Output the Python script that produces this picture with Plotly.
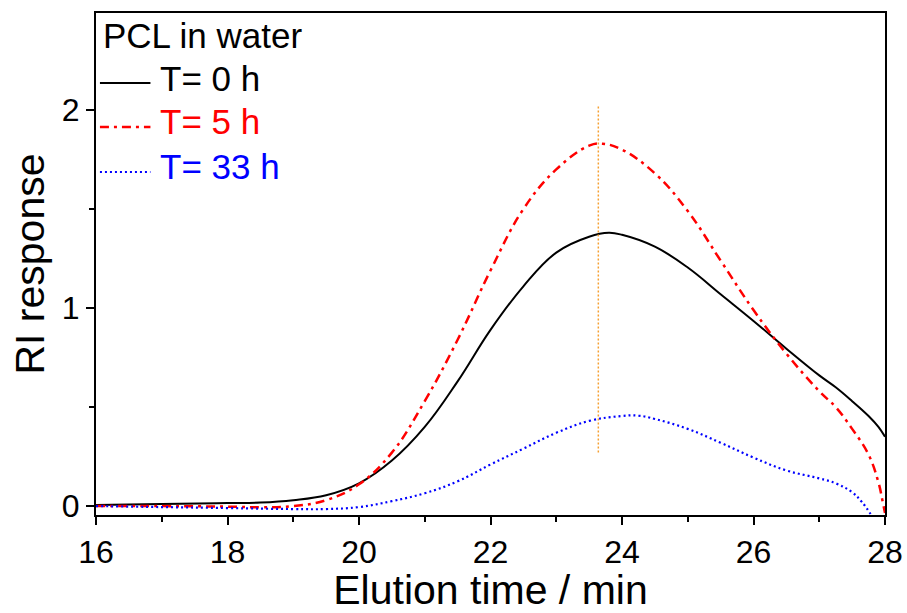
import plotly.graph_objects as go

# Elution time (min)
x_t0 = [16, 17, 18, 18.5, 19, 19.5, 20, 20.5, 21, 21.5, 22, 22.5, 23, 23.5, 23.8, 24,
        24.5, 25, 25.5, 26, 26.5, 27, 27.25, 27.5, 27.75, 27.9, 28]
y_t0 = [0.005, 0.01, 0.015, 0.018, 0.03, 0.055, 0.115, 0.23, 0.40, 0.63, 0.89, 1.11, 1.28,
        1.36, 1.38, 1.37, 1.31, 1.205, 1.07, 0.935, 0.795, 0.66, 0.60, 0.53, 0.455, 0.40, 0.35]

x_t5 = [16, 17, 18, 18.5, 19, 19.5, 20, 20.5, 21, 21.5, 22, 22.5, 23, 23.5, 23.7, 24,
        24.5, 25, 25.5, 26, 26.5, 27, 27.25, 27.5, 27.75, 27.9, 27.96, 28]
y_t5 = [0.0, 0.0, -0.003, -0.006, 0.0, 0.03, 0.11, 0.27, 0.53, 0.84, 1.19, 1.50, 1.70,
        1.82, 1.83, 1.80, 1.68, 1.49, 1.24, 0.99, 0.77, 0.58, 0.50, 0.39, 0.26, 0.12, 0.03, -0.035]

x_t33 = [16, 17, 18, 19, 19.5, 20, 20.5, 21, 21.5, 22, 22.5, 23, 23.5, 24, 24.25, 24.5,
         25, 25.5, 26, 26.5, 27, 27.25, 27.5, 27.65, 27.78]
y_t33 = [0.0, -0.005, -0.01, -0.015, -0.015, -0.005, 0.025, 0.065, 0.125, 0.21, 0.29, 0.37,
         0.43, 0.455, 0.457, 0.44, 0.39, 0.32, 0.245, 0.18, 0.14, 0.115, 0.07, 0.02, -0.04]

# Vertical marker line
x_mark = [23.64, 23.64]
y_mark = [0.27, 2.02]

x_ticks = [16, 18, 20, 22, 24, 26, 28]
y_ticks = [0, 1, 2]

legend_title = "PCL in water"
series_names = ["T= 0 h", "T= 5 h", "T= 33 h"]
series_colors = ["#000000", "#ff0000", "#0000ff"]
series_dash = ["solid", "9px,5px,3px,5px", "2px,3px"]
series_width = [2, 2.5, 2.2]

FONT = "Liberation Sans, Arial, sans-serif"
SM = 1.15

fig = go.Figure()
for xs, ys, nm, col, dsh, w in zip([x_t0, x_t5, x_t33], [y_t0, y_t5, y_t33],
                                   series_names, series_colors, series_dash, series_width):
    fig.add_trace(go.Scatter(x=xs, y=ys, mode="lines", name=nm, showlegend=False,
                             line=dict(color=col, width=w, dash=dsh,
                                       shape="spline", smoothing=SM)))
fig.add_trace(go.Scatter(x=x_mark, y=y_mark, mode="lines", showlegend=False,
                         line=dict(color="#f5a033", width=1.5, dash="2px,2px")))

# Legend drawn inside the plot (top-left), positions in paper fractions
legend_text_y = [0.8705, 0.7829, 0.6952]
legend_line_y = [0.8606, 0.7729, 0.6833]
fig.add_annotation(text=legend_title, xref="paper", yref="paper", x=0.006, y=0.9542,
                   xanchor="left", yanchor="middle", showarrow=False,
                   font=dict(family=FONT, size=35, color="black"))
for nm, col, dsh, w, ty, ly in zip(series_names, series_colors, series_dash, series_width,
                                   legend_text_y, legend_line_y):
    fig.add_shape(type="line", xref="paper", yref="paper", x0=0.005, x1=0.069, y0=ly, y1=ly,
                  line=dict(color=col, width=w, dash=dsh))
    fig.add_annotation(text=nm, xref="paper", yref="paper", x=0.079, y=ty,
                       xanchor="left", yanchor="middle", showarrow=False,
                       font=dict(family=FONT, size=35, color=col))

axis_common = dict(showline=True, linewidth=2, linecolor="black", mirror=True,
                   ticks="outside", ticklen=8, tickwidth=2, tickcolor="black",
                   showgrid=False, zeroline=False, automargin=False,
                   tickfont=dict(family=FONT, size=32, color="black"))

fig.update_layout(
    width=907, height=613,
    margin=dict(l=96, r=22, t=13, b=98),
    paper_bgcolor="white", plot_bgcolor="white",
    font=dict(family=FONT, color="black"),
    showlegend=False,
    xaxis=dict(range=[16, 28], tickvals=x_ticks,
               minor=dict(dtick=1, ticklen=5, tickwidth=2, ticks="outside", tickcolor="black"),
               title=dict(text="Elution time / min", font=dict(family=FONT, size=41), standoff=0),
               **axis_common),
    yaxis=dict(range=[-0.045, 2.49], tickvals=y_ticks,
               minor=dict(dtick=0.5, ticklen=5, tickwidth=2, ticks="outside", tickcolor="black"),
               title=dict(text="RI response", font=dict(family=FONT, size=41), standoff=4),
               **axis_common),
)

fig.write_html("out.html", config={"displayModeBar": False},
               post_script="document.body.style.margin='0';document.body.style.overflow='hidden';")
